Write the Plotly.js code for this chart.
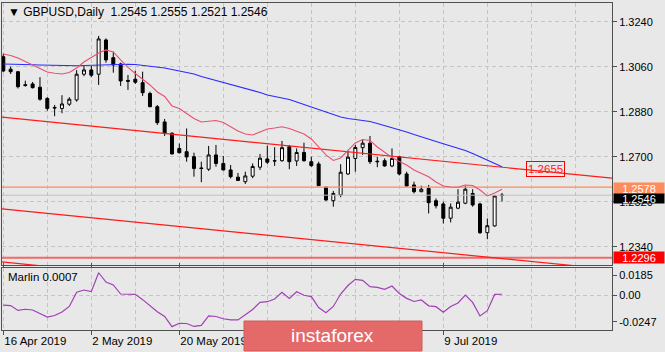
<!DOCTYPE html>
<html><head><meta charset="utf-8">
<script src="https://cdn.plot.ly/plotly-3.0.1.min.js"></script>
<style>html,body{margin:0;padding:0;background:#e8e8e8;}#chart{width:665px;height:352px;}</style>
</head><body><div id="chart"></div>
<script>
const dates = ['2019-04-16','2019-04-17','2019-04-18','2019-04-19','2019-04-22','2019-04-23','2019-04-24','2019-04-25','2019-04-26','2019-04-29',
'2019-04-30','2019-05-01','2019-05-02','2019-05-03','2019-05-06','2019-05-07','2019-05-08','2019-05-09','2019-05-10','2019-05-13',
'2019-05-14','2019-05-15','2019-05-16','2019-05-17','2019-05-20','2019-05-21','2019-05-22','2019-05-23','2019-05-24','2019-05-27',
'2019-05-28','2019-05-29','2019-05-30','2019-05-31','2019-06-03','2019-06-04','2019-06-05','2019-06-06','2019-06-07','2019-06-10',
'2019-06-11','2019-06-12','2019-06-13','2019-06-14','2019-06-17','2019-06-18','2019-06-19','2019-06-20','2019-06-21','2019-06-24',
'2019-06-25','2019-06-26','2019-06-27','2019-06-28','2019-07-01','2019-07-02','2019-07-03','2019-07-04','2019-07-05','2019-07-08',
'2019-07-09','2019-07-10','2019-07-11','2019-07-12','2019-07-15','2019-07-16','2019-07-17','2019-07-18','2019-07-19'];
const open  = [1.3100,1.3050,1.3040,1.2988,1.2991,1.2978,1.2933,1.2897,1.2893,1.2910,
1.2927,1.3030,1.3047,1.3030,1.3167,1.3096,1.3071,1.3005,1.3010,1.2996,
1.2953,1.2900,1.2839,1.2794,1.2733,1.2720,1.2700,1.2655,1.2650,1.2707,
1.2673,1.2647,1.2618,1.2600,1.2622,1.2658,1.2691,1.2684,1.2684,1.2740,
1.2683,1.2717,1.2680,1.2671,1.2578,1.2524,1.2547,1.2631,1.2693,1.2736,
1.2754,1.2682,1.2684,1.2663,1.2700,1.2631,1.2587,1.2560,1.2573,1.2524,
1.2511,1.2454,1.2494,1.2514,1.2553,1.2511,1.2396,1.2423,1.2545];
const high  = [1.3112,1.3060,1.3043,1.3004,1.2999,1.3018,1.2938,1.2907,1.2946,1.2938,
1.3046,1.3063,1.3063,1.3183,1.3173,1.3120,1.3076,1.3027,1.3044,1.3040,
1.2960,1.2907,1.2851,1.2797,1.2753,1.2813,1.2716,1.2680,1.2743,1.2747,
1.2703,1.2667,1.2635,1.2640,1.2673,1.2711,1.2744,1.2738,1.2763,1.2747,
1.2733,1.2756,1.2700,1.2680,1.2580,1.2563,1.2670,1.2724,1.2747,1.2769,
1.2783,1.2700,1.2693,1.2733,1.2704,1.2640,1.2600,1.2584,1.2587,1.2533,
1.2520,1.2513,1.2570,1.2584,1.2570,1.2516,1.2453,1.2547,1.2555];
const low   = [1.3038,1.3031,1.2973,1.2980,1.2973,1.2924,1.2884,1.2862,1.2874,1.2903,
1.2920,1.3022,1.3018,1.2987,1.3076,1.3036,1.2983,1.2967,1.2991,1.2943,
1.2898,1.2827,1.2783,1.2709,1.2713,1.2680,1.2620,1.2598,1.2643,1.2660,
1.2645,1.2613,1.2604,1.2591,1.2614,1.2647,1.2671,1.2663,1.2680,1.2650,
1.2663,1.2680,1.2660,1.2583,1.2523,1.2500,1.2538,1.2627,1.2640,1.2707,
1.2671,1.2658,1.2660,1.2658,1.2625,1.2580,1.2553,1.2558,1.2473,1.2493,
1.2433,1.2437,1.2490,1.2510,1.2500,1.2391,1.2370,1.2420,1.2521];
const close = [1.3043,1.3040,1.2980,1.2985,1.2976,1.2930,1.2893,1.2895,1.2911,1.2930,
1.3030,1.3047,1.3026,1.3171,1.3087,1.3067,1.3003,1.3002,1.2998,1.2956,
1.2900,1.2836,1.2795,1.2711,1.2716,1.2699,1.2653,1.2653,1.2707,1.2673,
1.2647,1.2620,1.2605,1.2623,1.2661,1.2694,1.2678,1.2683,1.2736,1.2680,
1.2717,1.2684,1.2664,1.2584,1.2527,1.2553,1.2638,1.2698,1.2737,1.2754,
1.2680,1.2680,1.2663,1.2693,1.2631,1.2583,1.2560,1.2570,1.2516,1.2504,
1.2454,1.2498,1.2518,1.2570,1.2507,1.2396,1.2424,1.2543,1.2546];
const maFast = [1.3111,1.3105,1.3095,1.3081,1.3067,1.3053,1.3039,1.3034,1.3031,1.3037,
1.3055,1.3079,1.3097,1.3115,1.3127,1.3119,1.3087,1.3057,1.3033,1.3009,
1.2987,1.2959,1.2941,1.2903,1.2893,1.2873,1.2853,1.2839,1.2841,1.2845,
1.2837,1.2821,1.2803,1.2791,1.2787,1.2799,1.2811,1.2815,1.2820,1.2813,
1.2803,1.2791,1.2771,1.2739,1.2707,1.2685,1.2695,1.2725,1.2755,1.2769,
1.2765,1.2739,1.2719,1.2697,1.2681,1.2667,1.2647,1.2633,1.2620,1.2599,
1.2583,1.2579,1.2578,1.2587,1.2585,1.2567,1.2543,1.2555,1.2570];
const maSlow = [1.3071,1.3071,1.3070,1.3069,1.3068,1.3067,1.3066,1.3065,1.3064,1.3064,
1.3064,1.3065,1.3066,1.3068,1.3069,1.3069,1.3070,1.3070,1.3069,1.3066,
1.3063,1.3060,1.3055,1.3049,1.3044,1.3039,1.3031,1.3021,1.3013,1.3007,
1.3000,1.2991,1.2981,1.2973,1.2966,1.2957,1.2947,1.2941,1.2936,1.2929,
1.2919,1.2909,1.2899,1.2889,1.2877,1.2867,1.2859,1.2853,1.2849,1.2845,
1.2841,1.2833,1.2825,1.2817,1.2809,1.2799,1.2789,1.2779,1.2770,1.2761,
1.2752,1.2743,1.2735,1.2725,1.2713,1.2699,1.2687,1.2673,1.2660];
const marlin = [-0.0093,-0.0098,-0.0143,-0.0132,-0.0139,-0.0171,-0.0204,-0.0190,-0.0157,-0.0106,
0.0025,0.0046,0.0031,0.0206,0.0120,0.0093,0.0009,0.0007,0.0006,-0.0043,
-0.0097,-0.0155,-0.0199,-0.0293,-0.0262,-0.0264,-0.0291,-0.0282,-0.0194,-0.0199,
-0.0220,-0.0231,-0.0231,-0.0180,-0.0134,-0.0068,-0.0062,-0.0037,0.0025,-0.0031,
0.0030,-0.0002,-0.0015,-0.0116,-0.0164,-0.0106,0.0009,0.0088,0.0145,0.0136,
0.0077,0.0071,0.0053,0.0083,0.0014,-0.0031,-0.0060,-0.0046,-0.0100,-0.0108,
-0.0160,-0.0106,-0.0074,0.0000,-0.0068,-0.0194,-0.0145,0.0005,0.0007];
// visible date labels (the two under the logo are hidden in the reference)
const tickDates  = ['2019-04-16','2019-05-02','2019-05-20','2019-07-09'];
const tickLabels = ['16 Apr 2019','2 May 2019','20 May 2019','9 Jul 2019'];
const priceTicks = [1.3240,1.3060,1.2880,1.2700,1.2520,1.2340];
const marlinTicks = [0.0185,0,-0.0247];
const marlinTickLabels = ['0.0185','0.00','-0.0247'];
// trend lines: [bar index, price] anchor pairs
const trendUpperX = [-0.18,83.0], trendUpperY = [1.2858,1.2614];
const trendLowerX = [-0.18,83.0], trendLowerY = [1.2491,1.2249];
const trendBottomX = [-0.18,83.0], trendBottomY = [1.2279,1.2035];
const levelOrange = 1.2578, levelBid = 1.2546, levelRed = 1.2296, trendLabelValue = 1.2655;

const xi = dates.map((d,i)=>i);
const XR = [-0.177, 83.0];
const px = x => (x-2)/610;          // pixel -> paper x
const py = y => (330-y)/327;        // pixel -> paper y
const gridCol = '#c4c4c4', lineCol = '#505050';
const FONT = 'Liberation Sans, Arial, sans-serif';

const traces = [
  {type:'scatter', mode:'lines', x:XR, y:[levelBid,levelBid], line:{color:'#c0c0c0',width:1}, hoverinfo:'skip'},
  {type:'scatter', mode:'lines', x:XR, y:[levelOrange,levelOrange], line:{color:'#ff8c5a',width:1.3}, hoverinfo:'skip'},
  {type:'scatter', mode:'lines', x:XR, y:[levelRed,levelRed], line:{color:'#f26a6a',width:2}, hoverinfo:'skip'},
  {type:'candlestick', x:xi, open:open, high:high, low:low, close:close,
   increasing:{line:{color:'#000',width:1}, fillcolor:'#ffffff'},
   decreasing:{line:{color:'#000',width:1}, fillcolor:'#000000'}, whiskerwidth:0, hoverinfo:'skip'},
  {type:'scatter', mode:'lines', x:trendUpperX, y:trendUpperY, line:{color:'#ff1a1a',width:1.2}, hoverinfo:'skip'},
  {type:'scatter', mode:'lines', x:trendLowerX, y:trendLowerY, line:{color:'#ff1a1a',width:1.2}, hoverinfo:'skip'},
  {type:'scatter', mode:'lines', x:trendBottomX, y:trendBottomY, line:{color:'#ff1a1a',width:1.2}, hoverinfo:'skip'},
  {type:'scatter', mode:'lines', x:xi, y:maSlow, line:{color:'#2a2aff',width:1.1}, hoverinfo:'skip'},
  {type:'scatter', mode:'lines', x:xi, y:maFast, line:{color:'#e8506e',width:1.1}, hoverinfo:'skip'},
  {type:'scatter', mode:'lines', x:xi, y:marlin, yaxis:'y2', line:{color:'#a040b4',width:1.2}, hoverinfo:'skip'}
];

const gridVals = [];
for (let k=0;k<=78;k+=6) gridVals.push(k);
const tickIdx = tickDates.map(d=>dates.indexOf(d));

const annotations = [
  {xref:'paper',yref:'paper',x:px(6),y:py(12),xanchor:'left',yanchor:'middle',showarrow:false,
   text:'▼ GBPUSD,Daily  '+[open,high,low,close].map(a=>a[a.length-1].toFixed(4)).join(' '),
   font:{family:FONT,size:12,color:'#000'}},
  {xref:'paper',yref:'paper',x:px(6),y:py(277),xanchor:'left',yanchor:'middle',showarrow:false,
   text:'Marlin '+marlin[marlin.length-1].toFixed(4), font:{family:FONT,size:11.5,color:'#000'}},
  {xref:'paper',yref:'y',x:px(613),y:levelOrange,yshift:-1,xanchor:'left',yanchor:'middle',showarrow:false,
   text:levelOrange.toFixed(4),bgcolor:'#ff8c5a',width:50,height:11,borderpad:0,align:'center',
   font:{family:FONT,size:11,color:'#fff'}},
  {xref:'paper',yref:'y',x:px(613),y:levelBid,yshift:-3,xanchor:'left',yanchor:'middle',showarrow:false,
   text:levelBid.toFixed(4),bgcolor:'#000',width:50,height:9,borderpad:0,align:'center',
   font:{family:FONT,size:11,color:'#fff'}},
  {xref:'paper',yref:'y',x:px(613),y:levelRed,xanchor:'left',yanchor:'middle',showarrow:false,
   text:levelRed.toFixed(4),bgcolor:'#ff0000',width:50,height:11,borderpad:0,align:'center',
   font:{family:FONT,size:11,color:'#fff'}},
  {xref:'paper',yref:'paper',x:px(545),y:py(169),xanchor:'center',yanchor:'middle',showarrow:false,
   text:trendLabelValue.toFixed(4),bordercolor:'#ff0000',borderwidth:1,borderpad:1,
   font:{family:FONT,size:11.5,color:'#ff2020'}},
  {xref:'paper',yref:'paper',x:px(289),y:py(336),xanchor:'left',yanchor:'middle',showarrow:false,
   text:'instaforex', font:{family:'Liberation Sans, Arial, sans-serif',size:19,color:'#ffffff'}}
];

const shapes = [
  {type:'rect',xref:'paper',yref:'paper',x0:px(244),x1:px(422),y0:py(351),y1:py(321),
   fillcolor:'#e46a6a',line:{color:'#d05a5a',width:1},layer:'above'}
];

const layout = {
  width:665, height:352, margin:{l:2,r:53,t:3,b:22,pad:0},
  paper_bgcolor:'#e8e8e8', plot_bgcolor:'#e8e8e8',
  showlegend:false, boxgap:0.42, hovermode:false,
  font:{family:FONT,size:11,color:'#000'},
  xaxis:{range:XR, anchor:'y2', tickmode:'array', tickvals:tickIdx, ticktext:tickLabels,
    ticks:'outside', ticklen:4, tickcolor:lineCol, ticklabelposition:'outside right',
    tickfont:{family:FONT,size:11.5,color:'#000'},
    showgrid:true, gridcolor:gridCol, griddash:'4px,3px', gridwidth:1,
    minor:{tickmode:'array', tickvals:gridVals, showgrid:true, gridcolor:gridCol, griddash:'4px,3px', ticks:''},
    showline:true, linecolor:lineCol, linewidth:1, mirror:'all', zeroline:false,
    rangeslider:{visible:false}, fixedrange:true},
  yaxis:{domain:[65/327,1], range:[1.22668,1.33148], side:'right', tickmode:'array',
    tickvals:priceTicks, ticktext:priceTicks.map(v=>v.toFixed(4)),
    ticks:'outside', ticklen:4, tickcolor:lineCol, tickfont:{family:FONT,size:11,color:'#000'},
    showgrid:true, gridcolor:gridCol, griddash:'4px,3px',
    showline:true, linecolor:lineCol, linewidth:1, mirror:true, zeroline:false, fixedrange:true},
  yaxis2:{domain:[0,62/327], range:[-0.0324,0.0250], side:'right', tickmode:'array',
    tickvals:marlinTicks, ticktext:marlinTickLabels,
    ticks:'outside', ticklen:4, tickcolor:lineCol, tickfont:{family:FONT,size:11,color:'#000'},
    showgrid:false,
    minor:{tickmode:'array', tickvals:[0], showgrid:true, gridcolor:gridCol, griddash:'4px,3px', ticks:''},
    showline:true, linecolor:lineCol, linewidth:1, mirror:true, zeroline:false, fixedrange:true},
  annotations:annotations, shapes:shapes
};

Plotly.newPlot('chart', traces, layout, {staticPlot:true, displayModeBar:false});
</script></body></html>
